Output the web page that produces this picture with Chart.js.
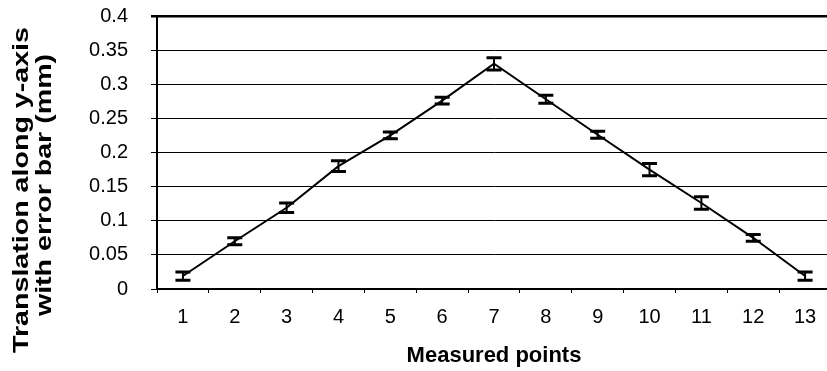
<!DOCTYPE html>
<html>
<head>
<meta charset="utf-8">
<script src="https://cdn.jsdelivr.net/npm/chart.js@4/dist/chart.umd.min.js"></script>
<style>
  html, body { margin: 0; padding: 0; background: #fff; overflow: hidden; }
  #wrap { width: 831px; height: 371px; position: relative; }
</style>
</head>
<body>
<div id="wrap"><canvas id="transChart"></canvas></div>
<script>
// measured points along the path
const points = ['1', '2', '3', '4', '5', '6', '7', '8', '9', '10', '11', '12', '13'];
// mean translation (mm) and its error (half bar height)
const translation = [0.019, 0.070, 0.119, 0.180, 0.225, 0.276, 0.330, 0.278, 0.226, 0.175, 0.126, 0.075, 0.019];
const errorBar = [0.006, 0.005, 0.007, 0.008, 0.005, 0.005, 0.009, 0.006, 0.005, 0.009, 0.009, 0.005, 0.006];
const yTickLabels = ['0', '0.05', '0.1', '0.15', '0.2', '0.25', '0.3', '0.35', '0.4'];
const yTitle = ['Translation along y-axis', 'with error bar (mm)'];

// draws the I-shaped error bars on top of the line
const errorBars = {
    id: 'errorBars',
    afterDatasetsDraw(chart) {
        const { ctx, scales: { x, y } } = chart;
        ctx.save();
        ctx.strokeStyle = '#000';
        translation.forEach((v, i) => {
            const px = x.getPixelForValue(i);
            const top = y.getPixelForValue(v + errorBar[i]);
            const bot = y.getPixelForValue(v - errorBar[i]);
            ctx.lineWidth = 2;
            ctx.beginPath();
            ctx.moveTo(px, top);
            ctx.lineTo(px, bot);
            ctx.stroke();
            ctx.lineWidth = 3;
            ctx.beginPath();
            ctx.moveTo(px - 7.5, top);
            ctx.lineTo(px + 7.5, top);
            ctx.moveTo(px - 7.5, bot);
            ctx.lineTo(px + 7.5, bot);
            ctx.stroke();
        });
        ctx.restore();
    }
};

// two-line rotated y-axis title, stretched along the reading direction
const sideTitle = {
    id: 'sideTitle',
    afterDraw(chart) {
        const ctx = chart.ctx;
        ctx.save();
        ctx.fillStyle = '#000';
        ctx.font = 'bold 22px "Liberation Sans", Arial, sans-serif';
        ctx.textAlign = 'center';
        ctx.textBaseline = 'alphabetic';
        [[28, 190], [51, 185]].forEach(([bx, cy], i) => {
            ctx.save();
            ctx.translate(bx, cy);
            ctx.rotate(-Math.PI / 2);
            ctx.scale(1.3, 1);
            ctx.fillText(yTitle[i], 0, 0);
            ctx.restore();
        });
        ctx.restore();
    }
};

const ctx = document.getElementById('transChart').getContext('2d');
new Chart(ctx, {
    type: 'line',
    data: {
        labels: points,
        datasets: [{
            data: translation,
            borderColor: '#000',
            borderWidth: 2,
            pointRadius: 0,
            tension: 0,
            fill: false
        }]
    },
    options: {
        responsive: true,
        maintainAspectRatio: false,
        animation: false,
        layout: { padding: { top: 16, left: 0, right: 0, bottom: 0 } },
        plugins: {
            legend: { display: false },
            tooltip: { enabled: false }
        },
        scales: {
            x: {
                offset: true,
                grid: {
                    offset: true,
                    drawOnChartArea: false,
                    color: '#000',
                    tickLength: 4,
                    lineWidth: 1
                },
                border: { color: '#000', width: 2 },
                ticks: {
                    color: '#000',
                    padding: 12,
                    maxRotation: 0,
                    font: { family: '"Liberation Sans", Arial, sans-serif', size: 20 }
                },
                title: {
                    display: true,
                    text: 'Measured points',
                    color: '#000',
                    padding: { top: 0, bottom: 2 },
                    font: { family: '"Liberation Sans", Arial, sans-serif', size: 22, weight: 'bold' }
                },
                afterFit: s => { s.height = 82; }
            },
            y: {
                min: 0,
                max: 0.4,
                grid: {
                    color: '#000',
                    tickLength: 6,
                    lineWidth: c => (c.tick && c.tick.value >= 0.399 ? 2.5 : 1)
                },
                border: { color: '#000', width: 2 },
                ticks: {
                    stepSize: 0.05,
                    color: '#000',
                    padding: 23,
                    font: { family: '"Liberation Sans", Arial, sans-serif', size: 20 },
                    callback: (v, i) => yTickLabels[i]
                },
                afterFit: s => {
                    s.width = 157;
                    s.paddingTop = 0;
                    s.paddingBottom = 0;
                }
            }
        }
    },
    plugins: [errorBars, sideTitle]
});
</script>
</body>
</html>
